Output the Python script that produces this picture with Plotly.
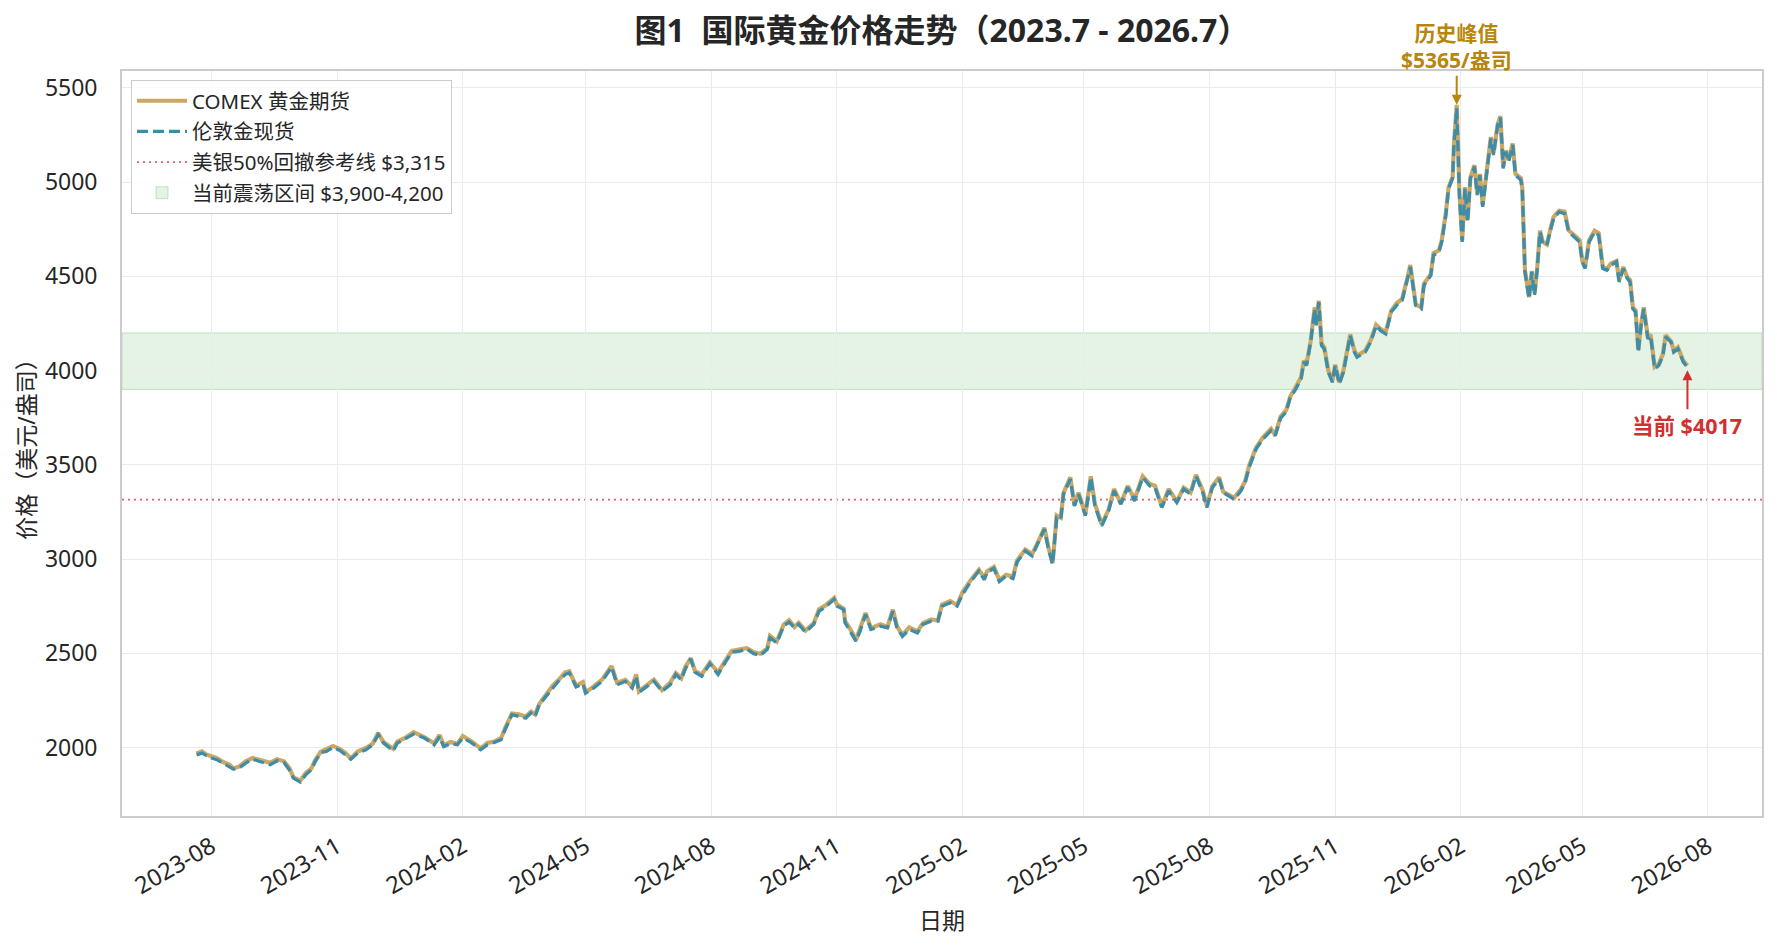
import plotly.graph_objects as go
import pandas as pd

# ---------------- data ----------------
dates = [
    "2023-07-21", "2023-07-25", "2023-07-28", "2023-08-01", "2023-08-05", "2023-08-09", "2023-08-14", "2023-08-17", "2023-08-21", "2023-08-26",
    "2023-08-31", "2023-09-05", "2023-09-10", "2023-09-13", "2023-09-18", "2023-09-23", "2023-09-27", "2023-09-30", "2023-10-05", "2023-10-09",
    "2023-10-13", "2023-10-16", "2023-10-20", "2023-10-24", "2023-10-29", "2023-11-03", "2023-11-07", "2023-11-11", "2023-11-16", "2023-11-22",
    "2023-11-27", "2023-12-01", "2023-12-05", "2023-12-12", "2023-12-15", "2023-12-20", "2023-12-27", "2024-01-04", "2024-01-11", "2024-01-15",
    "2024-01-18", "2024-01-23", "2024-01-28", "2024-02-01", "2024-02-07", "2024-02-14", "2024-02-19", "2024-02-24", "2024-02-29", "2024-03-03",
    "2024-03-08", "2024-03-13", "2024-03-18", "2024-03-22", "2024-03-25", "2024-03-28", "2024-04-03", "2024-04-07", "2024-04-11", "2024-04-16",
    "2024-04-19", "2024-04-24", "2024-04-29", "2024-05-01", "2024-05-07", "2024-05-13", "2024-05-20", "2024-05-24", "2024-05-30", "2024-06-04",
    "2024-06-07", "2024-06-09", "2024-06-15", "2024-06-20", "2024-06-26", "2024-07-02", "2024-07-06", "2024-07-10", "2024-07-13", "2024-07-17",
    "2024-07-20", "2024-07-25", "2024-07-31", "2024-08-06", "2024-08-11", "2024-08-16", "2024-08-22", "2024-08-27", "2024-09-01", "2024-09-06",
    "2024-09-11", "2024-09-13", "2024-09-18", "2024-09-23", "2024-09-27", "2024-10-01", "2024-10-04", "2024-10-09", "2024-10-15", "2024-10-19",
    "2024-10-24", "2024-10-30", "2024-11-01", "2024-11-06", "2024-11-07", "2024-11-11", "2024-11-15", "2024-11-18", "2024-11-22", "2024-11-26",
    "2024-12-03", "2024-12-08", "2024-12-12", "2024-12-15", "2024-12-19", "2024-12-24", "2024-12-30", "2025-01-03", "2025-01-09", "2025-01-14",
    "2025-01-17", "2025-01-23", "2025-01-28", "2025-02-01", "2025-02-07", "2025-02-13", "2025-02-17", "2025-02-19", "2025-02-24", "2025-02-28",
    "2025-03-05", "2025-03-10", "2025-03-13", "2025-03-19", "2025-03-24", "2025-03-29", "2025-04-02", "2025-04-05", "2025-04-08", "2025-04-11",
    "2025-04-14", "2025-04-16", "2025-04-21", "2025-04-24", "2025-04-27", "2025-05-02", "2025-05-06", "2025-05-09", "2025-05-14", "2025-05-19",
    "2025-05-23", "2025-05-28", "2025-06-02", "2025-06-07", "2025-06-13", "2025-06-18", "2025-06-22", "2025-06-27", "2025-07-02", "2025-07-08",
    "2025-07-13", "2025-07-18", "2025-07-22", "2025-07-27", "2025-07-30", "2025-08-03", "2025-08-08", "2025-08-11", "2025-08-19", "2025-08-24",
    "2025-08-27", "2025-08-30", "2025-09-04", "2025-09-09", "2025-09-15", "2025-09-18", "2025-09-22", "2025-09-26", "2025-09-29", "2025-10-03",
    "2025-10-07", "2025-10-09", "2025-10-11", "2025-10-14", "2025-10-17", "2025-10-18", "2025-10-20", "2025-10-22", "2025-10-24", "2025-10-27",
    "2025-10-30", "2025-11-01", "2025-11-04", "2025-11-07", "2025-11-12", "2025-11-15", "2025-11-17", "2025-11-23", "2025-11-27", "2025-12-01",
    "2025-12-04", "2025-12-08", "2025-12-12", "2025-12-16", "2025-12-20", "2025-12-24", "2025-12-26", "2025-12-30", "2026-01-03", "2026-01-05",
    "2026-01-10", "2026-01-12", "2026-01-16", "2026-01-18", "2026-01-21", "2026-01-23", "2026-01-26", "2026-01-27", "2026-01-29", "2026-01-31",
    "2026-02-02", "2026-02-04", "2026-02-06", "2026-02-08", "2026-02-11", "2026-02-13", "2026-02-15", "2026-02-17", "2026-02-19", "2026-02-23",
    "2026-02-25", "2026-02-28", "2026-03-02", "2026-03-04", "2026-03-06", "2026-03-08", "2026-03-11", "2026-03-13", "2026-03-17", "2026-03-18",
    "2026-03-20", "2026-03-23", "2026-03-25", "2026-03-27", "2026-03-29", "2026-03-31", "2026-04-02", "2026-04-05", "2026-04-08", "2026-04-10",
    "2026-04-14", "2026-04-18", "2026-04-21", "2026-04-25", "2026-04-29", "2026-05-01", "2026-05-03", "2026-05-06", "2026-05-10", "2026-05-13",
    "2026-05-16", "2026-05-19", "2026-05-22", "2026-05-26", "2026-05-28", "2026-05-31", "2026-06-03", "2026-06-05", "2026-06-07", "2026-06-09",
    "2026-06-11", "2026-06-13", "2026-06-15", "2026-06-18", "2026-06-20", "2026-06-23", "2026-06-26", "2026-06-29", "2026-07-01", "2026-07-05",
    "2026-07-07", "2026-07-10", "2026-07-14", "2026-07-17",
]

comex = [
    1968, 1979, 1963, 1955, 1943, 1924, 1909, 1889, 1898, 1926,
    1944, 1935, 1922, 1919, 1937, 1927, 1891, 1841, 1824, 1864,
    1887, 1935, 1978, 1990, 2008, 1991, 1971, 1942, 1978, 1997,
    2020, 2077, 2028, 1993, 2031, 2048, 2081, 2054, 2022, 2066,
    2011, 2029, 2019, 2061, 2035, 1995, 2024, 2031, 2049, 2103,
    2180, 2176, 2164, 2190, 2175, 2231, 2288, 2329, 2357, 2398,
    2404, 2328, 2347, 2293, 2324, 2360, 2432, 2344, 2359, 2323,
    2388, 2297, 2332, 2360, 2304, 2344, 2395, 2367, 2427, 2474,
    2407, 2387, 2451, 2398, 2457, 2512, 2521, 2527, 2506, 2497,
    2526, 2593, 2563, 2651, 2675, 2639, 2661, 2621, 2659, 2734,
    2755, 2793, 2760, 2736, 2670, 2626, 2570, 2628, 2714, 2633,
    2654, 2639, 2731, 2644, 2596, 2637, 2616, 2660, 2680, 2674,
    2758, 2777, 2756, 2823, 2888, 2943, 2900, 2934, 2958, 2889,
    2916, 2907, 2992, 3050, 3026, 3100, 3166, 3061, 2978, 3231,
    3219, 3351, 3434, 3286, 3352, 3238, 3439, 3293, 3184, 3262,
    3372, 3295, 3388, 3317, 3439, 3399, 3388, 3280, 3372, 3304,
    3379, 3353, 3447, 3364, 3281, 3387, 3434, 3357, 3325, 3371,
    3412, 3497, 3591, 3644, 3691, 3658, 3756, 3788, 3861, 3911,
    3964, 4052, 4037, 4155, 4336, 4248, 4370, 4144, 4123, 3998,
    3948, 4031, 3937, 4000, 4192, 4109, 4079, 4105, 4161, 4243,
    4221, 4204, 4317, 4357, 4380, 4495, 4560, 4350, 4336, 4461,
    4511, 4623, 4638, 4690, 4834, 4970, 5028, 5206, 5410, 4942,
    4691, 4973, 4799, 5024, 5090, 4940, 5043, 4880, 4992, 5239,
    5154, 5307, 5350, 5082, 5168, 5119, 5205, 5044, 5021, 4970,
    4531, 4390, 4529, 4410, 4549, 4743, 4684, 4669, 4762, 4816,
    4848, 4844, 4744, 4717, 4693, 4581, 4549, 4692, 4742, 4729,
    4549, 4539, 4569, 4581, 4478, 4550, 4494, 4481, 4336, 4318,
    4108, 4243, 4336, 4177, 4192, 4020, 4035, 4087, 4188, 4155,
    4106, 4124, 4051, 4026,
]

london = [
    1961, 1970, 1958, 1944, 1935, 1917, 1899, 1885, 1890, 1917,
    1938, 1926, 1917, 1908, 1929, 1920, 1881, 1837, 1816, 1855,
    1881, 1926, 1973, 1979, 2000, 1984, 1961, 1938, 1970, 1988,
    2014, 2068, 2023, 1982, 2023, 2041, 2071, 2050, 2014, 2057,
    2005, 2020, 2014, 2050, 2027, 1988, 2014, 2027, 2041, 2094,
    2174, 2165, 2156, 2183, 2165, 2227, 2280, 2320, 2351, 2387,
    2396, 2321, 2337, 2289, 2316, 2351, 2426, 2333, 2351, 2316,
    2378, 2293, 2324, 2351, 2298, 2333, 2387, 2360, 2417, 2470,
    2399, 2378, 2445, 2387, 2449, 2505, 2511, 2523, 2498, 2488,
    2520, 2582, 2555, 2644, 2665, 2635, 2653, 2612, 2653, 2723,
    2747, 2786, 2750, 2732, 2662, 2617, 2564, 2617, 2706, 2626,
    2644, 2635, 2723, 2635, 2590, 2626, 2608, 2653, 2670, 2670,
    2750, 2768, 2750, 2812, 2880, 2936, 2890, 2930, 2950, 2880,
    2910, 2896, 2984, 3043, 3016, 3096, 3158, 3052, 2972, 3220,
    3211, 3344, 3424, 3282, 3344, 3229, 3433, 3282, 3176, 3255,
    3362, 3291, 3380, 3308, 3433, 3388, 3380, 3273, 3362, 3300,
    3371, 3344, 3441, 3353, 3273, 3380, 3424, 3353, 3317, 3362,
    3406, 3486, 3583, 3637, 3681, 3654, 3748, 3779, 3855, 3900,
    3956, 4045, 4027, 4151, 4328, 4239, 4364, 4133, 4115, 3991,
    3938, 4027, 3929, 3991, 4186, 4098, 4071, 4098, 4151, 4239,
    4213, 4195, 4311, 4346, 4372, 4488, 4550, 4346, 4328, 4452,
    4505, 4612, 4630, 4683, 4824, 4966, 5020, 5197, 5392, 4931,
    4683, 4966, 4789, 5020, 5082, 4931, 5037, 4869, 4984, 5232,
    5144, 5303, 5342, 5073, 5162, 5108, 5197, 5037, 5011, 4966,
    4523, 4381, 4523, 4399, 4541, 4736, 4674, 4665, 4754, 4807,
    4842, 4833, 4736, 4710, 4683, 4577, 4541, 4683, 4736, 4718,
    4541, 4532, 4559, 4577, 4470, 4541, 4488, 4470, 4328, 4311,
    4098, 4239, 4328, 4168, 4186, 4009, 4027, 4080, 4178, 4151,
    4098, 4115, 4045, 4017,
]

bofa_level = 3315
band_low, band_high = 3900, 4200
series_names = ["COMEX 黄金期货", "伦敦金现货"]
bofa_name = "美银50%回撤参考线 $3,315"
band_name = "当前震荡区间 $3,900-4,200"
peak_text = "历史峰值<br>$5365/盎司"
current_text = "当前 $4017"
title_text = "图1\u00a0\u00a0国际黄金价格走势（2023.7 - 2026.7）"

# ---------------- styling ----------------
GOLD = "#CDA865"
TEAL = "#3E8DA8"
PEAK_C = "#B8860B"
CUR_C = "#D32F2F"
FONT = "Noto Sans, Noto Sans CJK SC, sans-serif"
TXT = "#262626"

n = min(len(dates), len(comex), len(london))
x = pd.to_datetime(dates[:n])
comex = comex[:n]
london = london[:n]

fig = go.Figure()
fig.add_trace(go.Scatter(x=x, y=comex, mode="lines", name=series_names[0], legendgroup="g1",
                         line=dict(color=GOLD, width=4.2), legendrank=1))
fig.add_trace(go.Scatter(x=x, y=london, mode="lines", name=series_names[1], legendgroup="g2",
                         line=dict(color=TEAL, width=3.3, dash="11px,5px"), legendrank=2))

fig.add_shape(type="line", xref="paper", yref="y", x0=0, x1=1, y0=bofa_level, y1=bofa_level,
              line=dict(color="#D9646A", width=1.8, dash="2px,4px"), layer="below",
              showlegend=True, name=bofa_name, legendrank=3, legendgroup="g3")
fig.add_shape(type="rect", xref="paper", yref="y", x0=0, x1=1, y0=band_low, y1=band_high,
              fillcolor="rgba(120,195,120,0.20)", line=dict(color="rgba(110,180,110,0.35)", width=1),
              layer="below", showlegend=True, name=band_name, legendrank=4, legendgroup="g4")

# ranges with matplotlib-like 5% margins
xmin, xmax = x.min(), x.max()
xpad = (xmax - xmin) * 0.05
ally = comex + london
ymin, ymax = min(ally), max(ally)
ypad = (ymax - ymin) * 0.05

# annotations
pk = max(range(n), key=lambda i: comex[i])
fig.add_annotation(x=x[pk], y=comex[pk], text="<b>" + peak_text + "</b>", showarrow=True,
                   ax=0, ay=-58, arrowhead=2, arrowsize=1, arrowwidth=2, arrowcolor=PEAK_C,
                   font=dict(family=FONT, size=21, color=PEAK_C), align="center")
fig.add_annotation(x=x[n - 1], y=london[n - 1], text="<b>" + current_text + "</b>", showarrow=True,
                   ax=0, ay=58, arrowhead=2, arrowsize=1, arrowwidth=2, arrowcolor=CUR_C, standoff=3,
                   font=dict(family=FONT, size=21.5, color=CUR_C), align="center")

fig.update_layout(
    width=1777, height=952,
    paper_bgcolor="white", plot_bgcolor="white",
    margin=dict(l=122, r=15, t=71, b=136),
    font=dict(family=FONT, color=TXT),
    title=dict(text="<b>" + title_text + "</b>", x=0.5, xref="paper", xanchor="center",
               y=1 - 31 / 952, yref="container", yanchor="middle",
               font=dict(family=FONT, size=32, color=TXT)),
    showlegend=True,
    legend=dict(x=0.0055, y=0.988, xanchor="left", yanchor="top",
                bgcolor="rgba(255,255,255,0.85)", bordercolor="#CCCCCC", borderwidth=1,
                itemwidth=50, tracegroupgap=1, traceorder="grouped",
                font=dict(family=FONT, size=20.5, color=TXT)),
    xaxis=dict(range=[xmin - xpad, xmax + xpad], type="date",
               tick0="2023-08-01", dtick="M3", tickformat="%Y-%m", tickangle=-30,
               showgrid=True, gridcolor="#EBEBEB", gridwidth=1.2, zeroline=False,
               showline=True, linecolor="#CCCCCC", linewidth=1.8, mirror=True,
               ticks="", ticklabelstandoff=6,
               tickfont=dict(family=FONT, size=23.5, color=TXT),
               title=dict(text="日期", font=dict(family=FONT, size=23, color=TXT), standoff=13)),
    yaxis=dict(range=[ymin - ypad, ymax + ypad], dtick=500, tickformat="d",
               showgrid=True, gridcolor="#EBEBEB", gridwidth=1.2, zeroline=False,
               showline=True, linecolor="#CCCCCC", linewidth=1.8, mirror=True,
               ticks="", ticklabelstandoff=18,
               tickfont=dict(family=FONT, size=23, color=TXT),
               title=dict(text="价格（美元/盎司）", font=dict(family=FONT, size=23, color=TXT), standoff=3)),
)

fig.write_html("out.html")
